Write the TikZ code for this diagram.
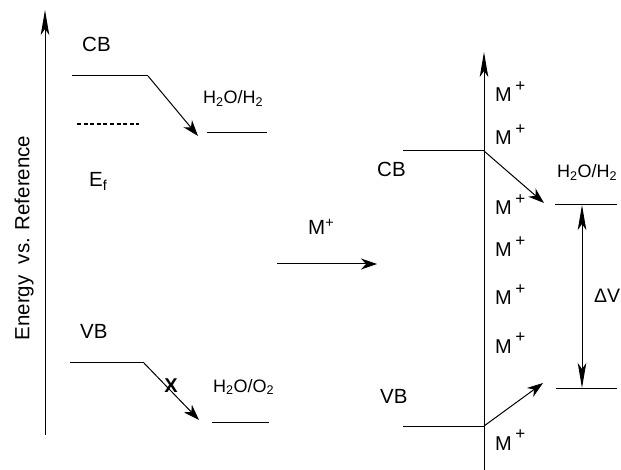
\documentclass[tikz,border=0pt]{standalone}
\usepackage{fontspec}
\setmainfont{Liberation Sans}
\usetikzlibrary{arrows.meta}
\begin{document}
\begin{tikzpicture}[x=1pt,y=-1pt,
  lvl/.style={line width=1pt},
  small/.style={line width=1pt,-{Stealth[length=16pt,width=11pt,inset=5pt]}},
  axis/.style={line width=1pt,-{Stealth[length=25pt,width=8.5pt,inset=6pt]}},
  dv/.style={line width=1pt,{Stealth[length=25pt,width=8.5pt,inset=6pt]}-{Stealth[length=25pt,width=8.5pt,inset=6pt]}},
  big/.style={inner sep=0pt,anchor=base west,font=\fontsize{20.5}{24}\selectfont},
  mid/.style={inner sep=0pt,anchor=base west,font=\fontsize{18}{22}\selectfont},
  mp/.style={inner sep=0pt,anchor=base west,font=\fontsize{20}{24}\selectfont}]
\useasboundingbox (0,0) rectangle (621,470);
\newcommand{\Mplus}{M\hspace{3.5pt}\raisebox{10.5pt}{\fontsize{17}{17}\selectfont +}}
% left panel
\coordinate (axL0) at (45,435); \coordinate (axL1) at (45,10);
\draw[axis] (axL0) -- (axL1);
\node[rotate=90,inner sep=0pt,font=\fontsize{20.5}{24}\selectfont] (elab) at (24,238) {Energy\ \ vs. Reference};
\node[big] (cbl) at (82,52) {CB};
\node[big] (vbl) at (80,338) {VB};
\node[big] (efl) at (89,187) {E\textsubscript{f}};
\node[mid] (hh1) at (203,104) {H\textsubscript{2}O/H\textsubscript{2}};
\node[mid] (ho1) at (213,392) {H\textsubscript{2}O/O\textsubscript{2}};
\coordinate (cb1a) at (72,76); \coordinate (cb1b) at (148,76); \coordinate (cb1t) at (198,136);
\draw[lvl] (cb1a) -- (cb1b);
\draw[small] (cb1b) -- (cb1t);
\coordinate (ef1a) at (77,124); \coordinate (ef1b) at (139,124);
\draw[lvl,line width=1.2pt,dash pattern=on 4pt off 2.6pt] (ef1a) -- (ef1b);
\coordinate (h1a) at (207,133); \coordinate (h1b) at (267,133);
\draw[lvl] (h1a) -- (h1b);
\coordinate (vb1a) at (70,362); \coordinate (vb1b) at (143,362); \coordinate (vb1t) at (199,420);
\draw[lvl] (vb1a) -- (vb1b);
\draw[small] (vb1b) -- (vb1t);
\node[inner sep=0pt,font=\bfseries\fontsize{20}{22}\selectfont] (xm) at (171,386) {X};
\coordinate (o1a) at (212,422); \coordinate (o1b) at (269,422);
\draw[lvl] (o1a) -- (o1b);
% middle arrow
\coordinate (ma) at (277,264); \coordinate (mb) at (377,264);
\draw[small] (ma) -- (mb);
\node[inner sep=0pt,anchor=base west,font=\fontsize{20.5}{24}\selectfont] (mlab) at (308,235) {M\textsuperscript{+}};
% right panel
\coordinate (axR0) at (484,470); \coordinate (axR1) at (484,52);
\draw[axis] (axR0) -- (axR1);
\node[big] (cbr) at (377,177) {CB};
\node[big] (vbr) at (380,403) {VB};
\node[mid] (hh2) at (557,178) {H\textsubscript{2}O/H\textsubscript{2}};
\node[inner sep=0pt,anchor=base west,font=\fontsize{19.5}{24}\selectfont] (dvl) at (594,302) {ΔV};
\coordinate (cb2a) at (403,151); \coordinate (cb2b) at (484,151); \coordinate (cb2t) at (544,203);
\draw[lvl] (cb2a) -- (cb2b);
\draw[small] (cb2b) -- (cb2t);
\coordinate (vb2a) at (403,426); \coordinate (vb2b) at (484,426); \coordinate (vb2t) at (543,383);
\draw[lvl] (vb2a) -- (vb2b);
\draw[small] (vb2b) -- (vb2t);
\coordinate (h2a) at (555,205); \coordinate (h2b) at (617,205);
\coordinate (o2a) at (556,388); \coordinate (o2b) at (617,388);
\draw[lvl] (h2a) -- (h2b);
\draw[lvl] (o2a) -- (o2b);
\coordinate (dvt) at (582,205); \coordinate (dvb) at (582,388);
\draw[dv] (dvb) -- (dvt);
\node[mp] (m1) at (495,102) {\Mplus};
\node[mp] (m2) at (495,145) {\Mplus};
\node[mp] (m3) at (495,215) {\Mplus};
\node[mp] (m4) at (495,257) {\Mplus};
\node[mp] (m5) at (495,305) {\Mplus};
\node[mp] (m6) at (495,353) {\Mplus};
\node[mp] (m7) at (495,450) {\Mplus};
\end{tikzpicture}
\end{document}
